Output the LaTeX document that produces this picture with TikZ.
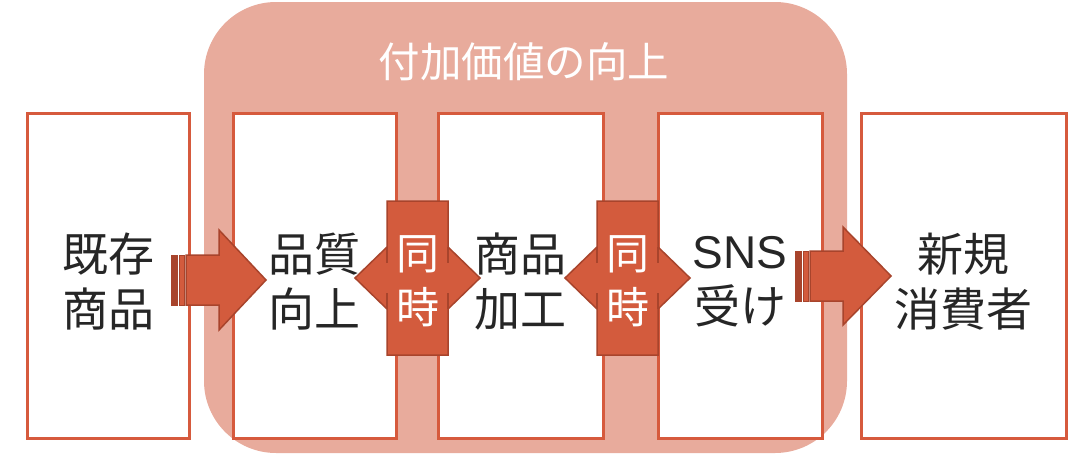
\documentclass[tikz,border=0pt]{standalone}
\usepackage{fontspec}
\setmainfont{Noto Sans CJK JP}
\newfontfamily\latinfont{Liberation Sans}
\definecolor{bigfill}{HTML}{E8AB9C}
\definecolor{boxline}{HTML}{D65A3D}
\definecolor{arrfill}{HTML}{D35B3D}
\definecolor{arrline}{HTML}{A8442C}
\definecolor{txt}{HTML}{262626}
\begin{document}
\begin{tikzpicture}[x=1pt,y=-1pt,
  box/.style={draw=boxline, line width=3pt, fill=white, minimum height=325pt, inner sep=0pt},
  boxtext/.style={text=txt, align=center, font=\fontsize{46}{55}\selectfont},
  whitetext/.style={text=white, align=center, font=\fontsize{43}{54}\selectfont},
  blockarrow/.style={fill=arrfill, draw=arrline, line width=1.5pt, line join=miter},
  stripe/.style={fill=arrline, draw=arrline, line width=1pt}
]
\useasboundingbox (0,0) rectangle (1079,458);
% background group
\fill[bigfill, rounded corners=72pt] (204,2) rectangle (847,453);
\node[text=white, font=\fontsize{41.5}{48}\selectfont] (title) at (524,62) {付加価値の向上};
% boxes
\node[box, minimum width=162pt] (b1) at (108,275.5) {};
\node[box, minimum width=163pt] (b2) at (314.5,275.5) {};
\node[box, minimum width=165pt] (b3) at (520.5,275.5) {};
\node[box, minimum width=164pt] (b4) at (740,275.5) {};
\node[box, minimum width=205pt] (b5) at (963.5,275.5) {};
% striped arrow 1
\coordinate (a1) at (171,280);
\fill[stripe] ([yshift=-25pt]a1) rectangle ([xshift=6pt,yshift=25pt]a1);
\filldraw[blockarrow, line width=1pt] ([xshift=8pt,yshift=-25pt]a1) rectangle ([xshift=13pt,yshift=25pt]a1);
\filldraw[blockarrow] ([xshift=15pt,yshift=-25pt]a1) -- ([xshift=48pt,yshift=-25pt]a1) -- ([xshift=48pt,yshift=-50pt]a1)
  -- ([xshift=95pt]a1) -- ([xshift=48pt,yshift=50pt]a1) -- ([xshift=48pt,yshift=25pt]a1) -- ([xshift=15pt,yshift=25pt]a1) -- cycle;
% striped arrow 2
\coordinate (a2) at (795,276);
\fill[stripe] ([yshift=-25pt]a2) rectangle ([xshift=6pt,yshift=25pt]a2);
\filldraw[blockarrow, line width=1pt] ([xshift=8pt,yshift=-25pt]a2) rectangle ([xshift=13pt,yshift=25pt]a2);
\filldraw[blockarrow] ([xshift=15pt,yshift=-25pt]a2) -- ([xshift=48pt,yshift=-25pt]a2) -- ([xshift=48pt,yshift=-49pt]a2)
  -- ([xshift=96pt]a2) -- ([xshift=48pt,yshift=49pt]a2) -- ([xshift=48pt,yshift=25pt]a2) -- ([xshift=15pt,yshift=25pt]a2) -- cycle;
% double arrow callouts
\foreach \n/\l/\r in {d1/387/448, d2/597/658}{
  \filldraw[blockarrow] (\l,201) -- (\r,201) -- (\r,247) -- (\r+32,278) -- (\r,309) -- (\r,355)
    -- (\l,355) -- (\l,309) -- (\l-32,278) -- (\l,247) -- cycle;
  \draw[arrline, line width=1.5pt] (\l,247) -- (\l,263) (\l,293) -- (\l,309)
    (\r,247) -- (\r,263) (\r,293) -- (\r,309);
}
\node[whitetext] (s1) at (417.5,281) {同\\時};
\node[whitetext] (s2) at (627.5,281) {同\\時};
% box texts
\node[boxtext] (t1) at (108,282) {既存\\商品};
\node[boxtext] (t2) at (314.5,282) {品質\\向上};
\node[boxtext] (t3) at (520.5,282) {商品\\加工};
\node[boxtext] (t4) at (740,282) {{\latinfont SNS}\\受け};
\node[boxtext] (t5) at (963.5,282) {新規\\消費者};
\end{tikzpicture}
\end{document}
